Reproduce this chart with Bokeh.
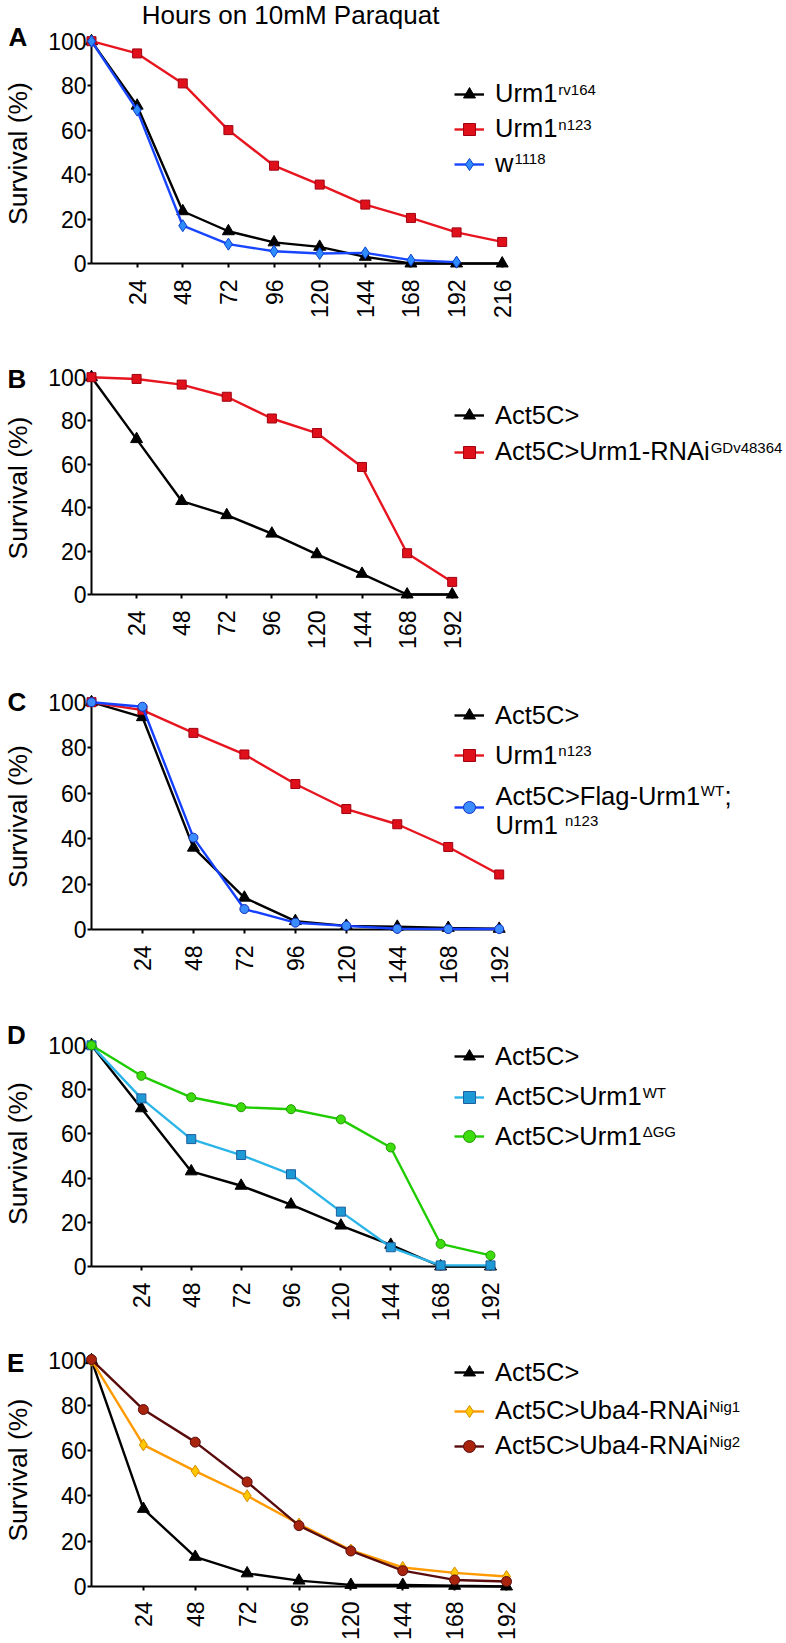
import math
from bokeh.plotting import figure
from bokeh.models import FixedTicker, Label, Legend, LegendItem, ColumnDataSource
from bokeh.layouts import column, row
from bokeh.core.properties import value
from bokeh.embed import file_html
from bokeh.resources import INLINE

FONT = "Liberation Sans"

# ---------------- data (survival %) ----------------
HOURS_A = [0, 24, 48, 72, 96, 120, 144, 168, 192, 216]
HOURS = [0, 24, 48, 72, 96, 120, 144, 168, 192]

A_URM1_RV164 = [100, 71, 23.5, 14.5, 9.5, 7.5, 3, 0, 0, 0]
A_URM1_N123 = [100, 94.5, 81, 60, 44, 35.5, 26.5, 20.5, 14, 9.7]
A_W1118 = [100, 69, 17, 8.7, 5.5, 4.5, 4.8, 1.5, 0.6]

B_ACT5C = [100, 71.5, 43, 36.5, 28, 18.5, 9.5, 0, 0]
B_URM1_RNAI = [100, 99.2, 96.6, 91, 81, 74.3, 58.7, 19, 5.8]

C_ACT5C = [100, 93.4, 36, 14, 3.7, 1.6, 1.2, 0.7, 0.3]
C_URM1_N123 = [100, 96.5, 86.5, 77, 64, 53, 46.3, 36.3, 24.2]
C_RESCUE = [100, 98, 40.4, 9, 3, 1.6, 0.3, 0.2, 0.2]

D_ACT5C = [100, 71.5, 43, 36.5, 28, 18.5, 9.8, 0, 0]
D_URM1_WT = [100, 76, 57.6, 50.4, 41.7, 24.8, 8.7, 0.5, 0.5]
D_URM1_DGG = [100, 86.2, 76.5, 72, 71.1, 66.5, 53.8, 10.2, 5]

E_ACT5C = [100, 34.3, 13.1, 5.8, 2.6, 0.7, 0.7, 0.3, 0]
E_NIG1 = [100, 62.6, 51, 40.1, 27.6, 16.1, 8.4, 6, 4.4]
E_NIG2 = [100.3, 78.2, 63.8, 46.2, 26.9, 15.7, 7, 2.9, 2.2]

Y_TICKS = [0, 20, 40, 60, 80, 100]

# Arial / Liberation Sans advance widths (per 1000 em), used to place superscripts
CHAR_W = {' ': 278, ';': 278, '-': 333, '>': 584, 'A': 667, 'C': 722, 'D': 722,
          'F': 611, 'G': 778, 'N': 722, 'R': 722, 'T': 611, 'U': 722, 'W': 944,
          'a': 556, 'b': 556, 'c': 500, 'g': 556, 'i': 222, 'l': 222, 'm': 833,
          'n': 556, 'r': 333, 't': 278, 'v': 500, 'w': 722, '\u0394': 668}


def text_w(s, size):
    return sum(CHAR_W.get(c, 556) for c in s) / 1000.0 * size


PAGE_W = 785
LEFT_W = 36          # narrow figure holding panel letter + y title
AXIS_X = 91          # page x of the y axis (x = 0)
LEG_SIZE = 25.5
SUP_SIZE = 15
LEG_X = 454          # page x of legend sample line start
GLYPH_W = 30
STANDOFF = 11
TEXT_X = LEG_X + GLYPH_W + STANDOFF


def make_panel(geo, hours, series, letter, letter_xy, ylab_y, rows, extra=None, title=None):
    fig_top, fig_bot, xN, xmax, y0, y100, x_standoff = geo
    kx = (xN - AXIS_X) / xmax
    ky = (y0 - y100) / 100.0
    H = fig_bot - fig_top
    BB = fig_bot - y0
    x_end = (PAGE_W - AXIS_X) / kx
    y_end = 100 + (y100 - fig_top) / ky

    # ---- left strip: panel letter + y title ----
    L = figure(width=LEFT_W, height=H, x_range=(0, 1), y_range=(0, 1),
               output_backend="svg", toolbar_location=None,
               x_axis_location=None, y_axis_location=None,
               min_border_left=0, min_border_right=0, min_border_top=0, min_border_bottom=BB)
    L.outline_line_color = None
    L.grid.visible = False
    L.add_layout(Label(x=letter_xy[0], y=y0 - letter_xy[1], x_units="screen", y_units="screen",
                       text=letter, text_font=FONT, text_font_size="26px",
                       text_font_style="bold", text_color="black", text_baseline="middle"))
    L.add_layout(Label(x=17, y=y0 - ylab_y, x_units="screen", y_units="screen",
                       text="Survival (%)", text_font=FONT, text_font_size="26.5px",
                       text_color="black", angle=math.pi / 2, text_align="center",
                       text_baseline="middle"))

    # ---- main plot ----
    p = figure(width=PAGE_W - LEFT_W, height=H, x_range=(0, x_end), y_range=(0, y_end),
               output_backend="svg", toolbar_location=None,
               min_border_left=AXIS_X - LEFT_W, min_border_right=0,
               min_border_top=0, min_border_bottom=BB)
    p.outline_line_color = None
    p.grid.visible = False

    for ax in (p.xaxis[0], p.yaxis[0]):
        ax.axis_line_width = 2
        ax.axis_line_color = "black"
        ax.major_tick_line_width = 2
        ax.major_tick_line_color = "black"
        ax.major_tick_out = 4
        ax.major_tick_in = 0
        ax.minor_tick_line_color = None
        ax.major_label_text_font = FONT
        ax.major_label_text_font_size = "23px"
        ax.major_label_text_color = "black"
    xa = p.xaxis[0]
    xa.bounds = (0, xmax)
    xa.ticker = FixedTicker(ticks=list(hours[1:]))
    xa.major_label_orientation = math.pi / 2
    xa.major_label_standoff = x_standoff
    ya = p.yaxis[0]
    ya.bounds = (0, 100)
    ya.ticker = FixedTicker(ticks=Y_TICKS)
    ya.major_label_standoff = 1

    def lab(text, px, py, size, **kw):
        p.add_layout(Label(x=px - AXIS_X, y=y0 - py, x_units="screen", y_units="screen",
                           text=text, text_font=FONT, text_font_size=f"{size}px",
                           text_color="black", text_baseline="middle", **kw))

    rend = []
    for s in series:
        vals = s["values"]
        src = ColumnDataSource(dict(x=hours[:len(vals)], y=vals))
        r1 = p.line("x", "y", source=src, line_color=s["color"], line_width=2.4,
                    level="annotation")
        r2 = p.scatter("x", "y", source=src, marker=s["marker"], size=s["size"],
                       fill_color=s["fill"], line_color=s["edge"], line_width=1,
                       level="annotation")
        rend.append((r1, r2))

    for (r1, r2), s, cy in zip(rend, series, rows):
        leg_text = s.get("leg_text", s["label"])
        leg = Legend(items=[LegendItem(label=value(leg_text), renderers=[r1, r2])],
                     location=(LEG_X - AXIS_X, y0 - cy - 16),
                     padding=0, margin=0, spacing=0, glyph_width=GLYPH_W, glyph_height=32,
                     label_height=32, label_standoff=STANDOFF, label_text_font=FONT,
                     label_text_font_size=f"{LEG_SIZE}px", label_text_color="black",
                     border_line_color=None, background_fill_alpha=0)
        p.add_layout(leg)
        if s.get("sup"):
            lab(s["sup"], TEXT_X + text_w(s["label"], LEG_SIZE) + 0.5, cy - 5, SUP_SIZE)

    if extra:
        extra(lab)
    if title:
        lab(title, 290, 14.6, 26, text_align="center")
    return row(L, p, spacing=0)


def S(label, values, color, marker, size, fill, edge, sup=None, **kw):
    d = dict(label=label, values=values, color=color, marker=marker, size=size,
             fill=fill, edge=edge, sup=sup)
    d.update(kw)
    return d


BLACK = "#000000"
RED, RED_F, RED_E = "#e6151f", "#e0101a", "#a00010"

rA = make_panel((0, 330, 501.7, 216, 263, 40.7, 12), HOURS_A, [
    S("Urm1", A_URM1_RV164, BLACK, "triangle", 12, BLACK, BLACK, "rv164"),
    S("Urm1", A_URM1_N123, RED, "square", 9, RED_F, RED_E, "n123"),
    S("w", A_W1118, "#1846ff", "diamond", 12, "#2f8cff", "#0a3fd0", "1118"),
], "A", (8, 36.6), 153, [93.5, 128.5, 163.5], title="Hours on 10mM Paraquat")

rB = make_panel((330, 660, 451.7, 192, 594, 376.7, 12), HOURS, [
    S("Act5C>", B_ACT5C, BLACK, "triangle", 12, BLACK, BLACK),
    S("Act5C>Urm1-RNAi", B_URM1_RNAI, RED, "square", 9, RED_F, RED_E, "GDv48364"),
], "B", (7, 378), 487.5, [415, 451.7])


def c_extra(lab):
    line1 = "Act5C>Flag-Urm1"
    w1 = text_w(line1, LEG_SIZE)
    lab(line1, TEXT_X, 795, LEG_SIZE)
    lab("WT", TEXT_X + w1 + 0.5, 790.3, SUP_SIZE)
    lab(";", TEXT_X + w1 + 1 + text_w("WT", SUP_SIZE), 795, LEG_SIZE)
    lab("Urm1", TEXT_X, 824.2, LEG_SIZE)
    lab("n123", TEXT_X + text_w("Urm1 ", LEG_SIZE), 819.5, SUP_SIZE)


rC = make_panel((660, 992, 498.7, 192, 929, 701.7, 12), HOURS, [
    S("Act5C>", C_ACT5C, BLACK, "triangle", 12, BLACK, BLACK),
    S("Urm1", C_URM1_N123, RED, "square", 9, RED_F, RED_E, "n123"),
    S("Act5C>Flag-Urm1; Urm1", C_RESCUE, "#1540ff", "circle", 9, "#3b8cff", "#1030c0",
      leg_text=" "),
], "C", (7, 701.6), 816, [715, 755, 806.7], extra=c_extra)

rD = make_panel((992, 1323, 490, 192, 1267, 1045, 12), HOURS, [
    S("Act5C>", D_ACT5C, BLACK, "triangle", 12, BLACK, BLACK),
    S("Act5C>Urm1", D_URM1_WT, "#2ab4e8", "square", 9, "#1d9ad6", "#1f5e9e", "WT"),
    S("Act5C>Urm1", D_URM1_DGG, "#1fcc00", "circle", 9, "#3ddc0c", "#1f9900", "\u0394GG"),
], "D", (6.5, 1035.6), 1154, [1057, 1097.5, 1137])

rE = make_panel((1323, 1642, 506, 192, 1588, 1360, 11), HOURS, [
    S("Act5C>", E_ACT5C, BLACK, "triangle", 12, BLACK, BLACK),
    S("Act5C>Uba4-RNAi", E_NIG1, "#ff9a00", "diamond", 12, "#ffc800", "#d88a00", "Nig1"),
    S("Act5C>Uba4-RNAi", E_NIG2, "#5a0c0c", "circle", 10, "#a8240c", "#5a0c0c", "Nig2"),
], "E", (6.5, 1364), 1471.7, [1374.3, 1412.5, 1447.5])

layout = column(rA, rB, rC, rD, rE, spacing=0)
open("out.html", "w").write(file_html(layout, INLINE))
